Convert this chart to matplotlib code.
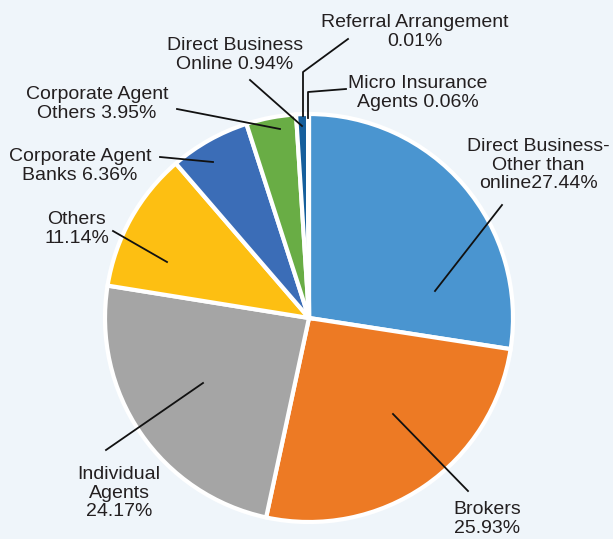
import matplotlib.pyplot as plt

plt.rcParams['font.family'] = ['Liberation Sans', 'DejaVu Sans']

# data
labels = ["Direct Business-\nOther than\nonline27.44%", "Brokers\n25.93%",
          "Individual\nAgents\n24.17%", "Others\n11.14%",
          "Corporate Agent\nBanks 6.36%", "Corporate Agent\nOthers 3.95%",
          "Direct Business\nOnline 0.94%", "Referral Arrangement\n0.01%",
          "Micro Insurance\nAgents 0.06%"]
shares = [27.44, 25.93, 24.17, 11.14, 6.36, 3.95, 0.94, 0.01, 0.06]
colors = ['#4a95d0', '#ed7a24', '#a5a5a5', '#fdbf12', '#3b6db7',
          '#69ad45', '#165f9c', '#1a4f80', '#0d3a66']

bg = '#eff5fa'
W, H = 613, 539
cx, cy, R = 309, 318, 204   # pie centre / radius in pixels

def px(x, y):
    return (x - cx) / R, (cy - y) / R

# label centres and leader paths (pixels)
label_pos = [(538, 165), (487, 519), (119, 493), (77, 229), (80, 166),
             (97, 104), (235, 55), (415, 32), (418, 93)]
leaders = [
    [(502, 205), (435, 291)],
    [(393, 414), (468, 491)],
    [(203, 383), (106, 450)],
    [(113, 231), (167, 262)],
    [(160, 157), (213, 162)],
    [(177, 109), (280, 129)],
    [(250, 80), (302, 126)],
    [(348, 39), (303, 72), (303, 116)],
    [(346, 89), (308, 92), (308, 118)],
]

fig = plt.figure(figsize=(W / 100, H / 100), dpi=100, facecolor=bg)
ax = fig.add_axes([0, 0, 1, 1])
ax.set_facecolor(bg)

ax.pie(shares, colors=colors, startangle=90, counterclock=False,
       radius=1, center=(0, 0),
       wedgeprops=dict(edgecolor='white', linewidth=3))

for path in leaders:
    pts = [px(x, y) for x, y in path]
    ax.plot([p[0] for p in pts], [p[1] for p in pts], color='#111111',
            lw=1.3, zorder=5)

for lab, (x, y) in zip(labels, label_pos):
    tx, ty = px(x, y)
    ax.text(tx, ty, lab, ha='center', va='center', multialignment='center',
            fontsize=14, color='#231f20', linespacing=1.1)

ax.set_xlim(-cx / R, (W - cx) / R)
ax.set_ylim(-(H - cy) / R, cy / R)
ax.set_aspect('equal')
ax.axis('off')

plt.savefig('out.png', dpi=100, facecolor=bg)
